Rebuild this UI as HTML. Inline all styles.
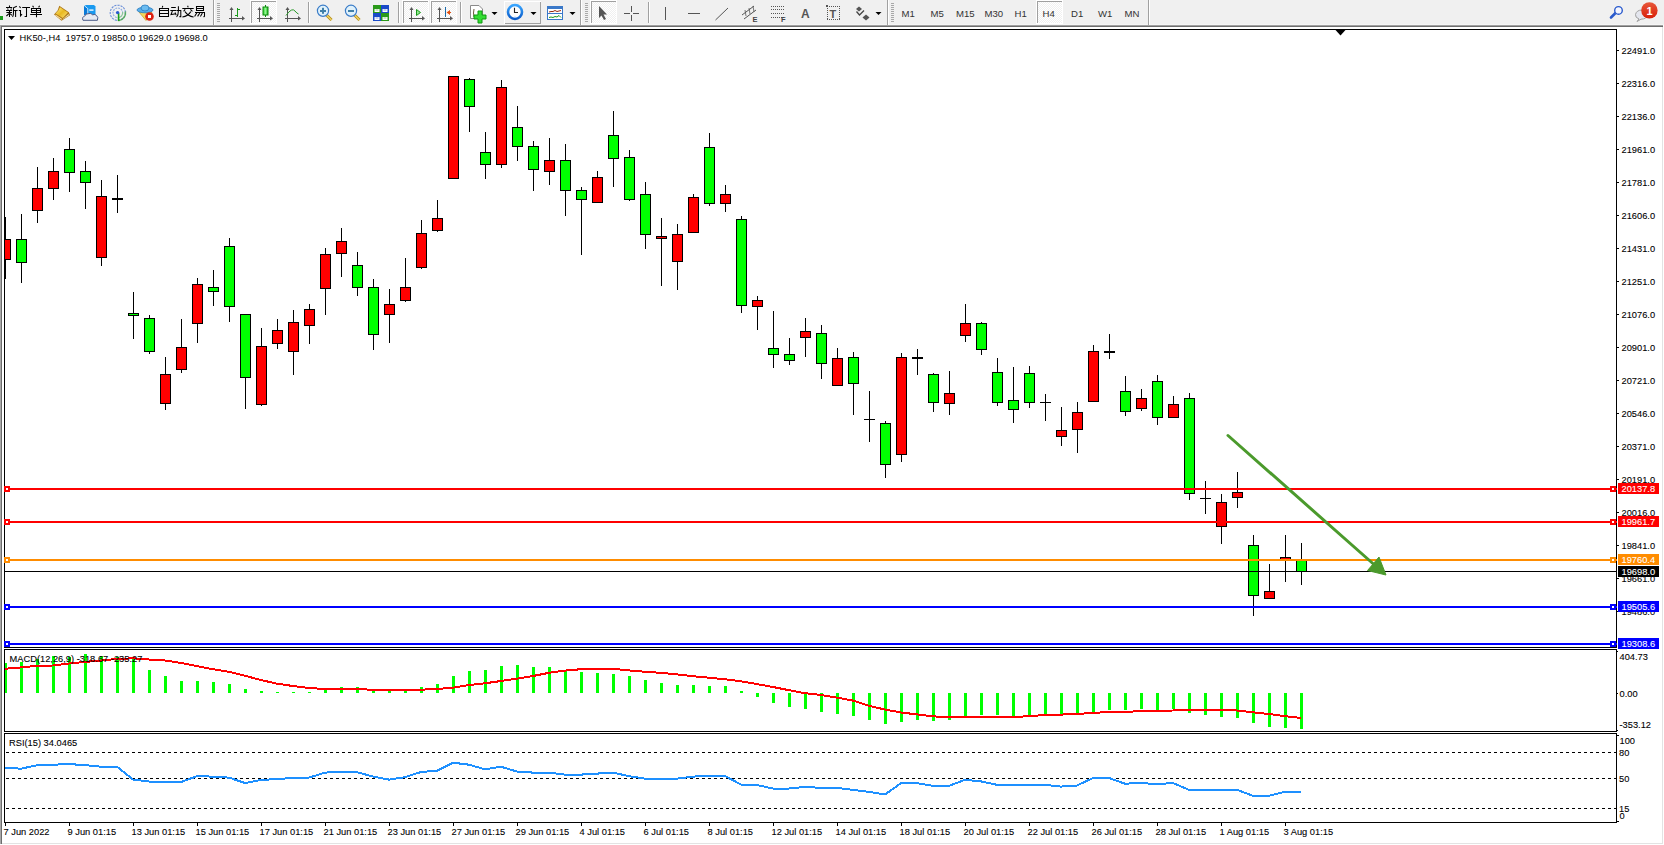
<!DOCTYPE html>
<html><head><meta charset="utf-8"><title>MT4 HK50 H4</title>
<style>html,body{margin:0;padding:0;background:#fff;width:1664px;height:845px;overflow:hidden}
svg text{font-family:"Liberation Sans",sans-serif}</style></head>
<body><svg width="1664" height="845" viewBox="0 0 1664 845" style="display:block;position:absolute;left:0;top:0"><rect x="0" y="0" width="1664" height="845" fill="#ffffff"/><rect x="0" y="0" width="1664" height="24" fill="#f0f0f0"/><rect x="0" y="24" width="1664" height="1" fill="#f5f5f5"/><rect x="0" y="25" width="1663" height="1" fill="#a0a0a0"/><rect x="0" y="26" width="1663" height="1" fill="#6d6d6d"/><rect x="0" y="25" width="1" height="819" fill="#a8a8a8"/><rect x="1" y="26" width="1" height="818" fill="#6d6d6d"/><rect x="1662" y="27" width="1" height="817" fill="#e3e3e3"/><rect x="2" y="843" width="1661" height="1" fill="#e3e3e3"/><defs><clipPath id="cm"><rect x="5" y="30" width="1611" height="617"/></clipPath><clipPath id="cmacd"><rect x="5" y="650" width="1611" height="81"/></clipPath><clipPath id="crsi"><rect x="5" y="734" width="1611" height="88"/></clipPath></defs><rect x="4" y="29" width="1613" height="1" fill="#000"/><rect x="4" y="647" width="1613" height="1" fill="#000"/><rect x="4" y="29" width="1" height="619" fill="#000"/><rect x="1616" y="29" width="1" height="619" fill="#000"/><rect x="4" y="649" width="1613" height="1" fill="#000"/><rect x="4" y="731" width="1613" height="1" fill="#000"/><rect x="4" y="649" width="1" height="83" fill="#000"/><rect x="1616" y="649" width="1" height="83" fill="#000"/><rect x="4" y="733" width="1613" height="1" fill="#000"/><rect x="4" y="822" width="1613" height="1" fill="#000"/><rect x="4" y="733" width="1" height="90" fill="#000"/><rect x="1616" y="733" width="1" height="90" fill="#000"/><rect x="1617" y="50" width="2" height="1" fill="#000"/><rect x="1617" y="83" width="2" height="1" fill="#000"/><rect x="1617" y="116" width="2" height="1" fill="#000"/><rect x="1617" y="149" width="2" height="1" fill="#000"/><rect x="1617" y="182" width="2" height="1" fill="#000"/><rect x="1617" y="215" width="2" height="1" fill="#000"/><rect x="1617" y="248" width="2" height="1" fill="#000"/><rect x="1617" y="281" width="2" height="1" fill="#000"/><rect x="1617" y="314" width="2" height="1" fill="#000"/><rect x="1617" y="347" width="2" height="1" fill="#000"/><rect x="1617" y="380" width="2" height="1" fill="#000"/><rect x="1617" y="413" width="2" height="1" fill="#000"/><rect x="1617" y="446" width="2" height="1" fill="#000"/><rect x="1617" y="479" width="2" height="1" fill="#000"/><rect x="1617" y="512" width="2" height="1" fill="#000"/><rect x="1617" y="545" width="2" height="1" fill="#000"/><rect x="1617" y="578" width="2" height="1" fill="#000"/><rect x="1617" y="611" width="2" height="1" fill="#000"/><g font-family='"Liberation Sans", sans-serif' font-size="9.8" fill="#000" stroke="#000" stroke-width="0.1"><text transform="translate(1621.5 54) scale(0.95 1)">22491.0</text><text transform="translate(1621.5 87) scale(0.95 1)">22316.0</text><text transform="translate(1621.5 120) scale(0.95 1)">22136.0</text><text transform="translate(1621.5 153) scale(0.95 1)">21961.0</text><text transform="translate(1621.5 186) scale(0.95 1)">21781.0</text><text transform="translate(1621.5 219) scale(0.95 1)">21606.0</text><text transform="translate(1621.5 252) scale(0.95 1)">21431.0</text><text transform="translate(1621.5 285) scale(0.95 1)">21251.0</text><text transform="translate(1621.5 318) scale(0.95 1)">21076.0</text><text transform="translate(1621.5 351) scale(0.95 1)">20901.0</text><text transform="translate(1621.5 384) scale(0.95 1)">20721.0</text><text transform="translate(1621.5 417) scale(0.95 1)">20546.0</text><text transform="translate(1621.5 450) scale(0.95 1)">20371.0</text><text transform="translate(1621.5 483) scale(0.95 1)">20191.0</text><text transform="translate(1621.5 516) scale(0.95 1)">20016.0</text><text transform="translate(1621.5 549) scale(0.95 1)">19841.0</text><text transform="translate(1621.5 582) scale(0.95 1)">19661.0</text><text transform="translate(1621.5 615) scale(0.95 1)">19486.0</text></g><g clip-path="url(#cm)"><rect x="5" y="217" width="1" height="62" fill="#000"/><rect x="0" y="239" width="11" height="21" fill="#000"/><rect x="1" y="240" width="9" height="19" fill="#ff0000"/><rect x="21" y="214" width="1" height="69" fill="#000"/><rect x="16" y="239" width="11" height="24" fill="#000"/><rect x="17" y="240" width="9" height="22" fill="#00ff00"/><rect x="37" y="167" width="1" height="56" fill="#000"/><rect x="32" y="188" width="11" height="23" fill="#000"/><rect x="33" y="189" width="9" height="21" fill="#ff0000"/><rect x="53" y="158" width="1" height="42" fill="#000"/><rect x="48" y="171" width="11" height="18" fill="#000"/><rect x="49" y="172" width="9" height="16" fill="#ff0000"/><rect x="69" y="138" width="1" height="54" fill="#000"/><rect x="64" y="149" width="11" height="24" fill="#000"/><rect x="65" y="150" width="9" height="22" fill="#00ff00"/><rect x="85" y="161" width="1" height="48" fill="#000"/><rect x="80" y="171" width="11" height="12" fill="#000"/><rect x="81" y="172" width="9" height="10" fill="#00ff00"/><rect x="101" y="180" width="1" height="86" fill="#000"/><rect x="96" y="196" width="11" height="62" fill="#000"/><rect x="97" y="197" width="9" height="60" fill="#ff0000"/><rect x="117" y="175" width="1" height="38" fill="#000"/><rect x="112" y="198" width="11" height="2" fill="#000"/><rect x="133" y="292" width="1" height="47" fill="#000"/><rect x="128" y="313" width="11" height="3" fill="#000"/><rect x="129" y="314" width="9" height="1" fill="#00ff00"/><rect x="149" y="315" width="1" height="39" fill="#000"/><rect x="144" y="318" width="11" height="34" fill="#000"/><rect x="145" y="319" width="9" height="32" fill="#00ff00"/><rect x="165" y="357" width="1" height="53" fill="#000"/><rect x="160" y="374" width="11" height="30" fill="#000"/><rect x="161" y="375" width="9" height="28" fill="#ff0000"/><rect x="181" y="319" width="1" height="54" fill="#000"/><rect x="176" y="347" width="11" height="23" fill="#000"/><rect x="177" y="348" width="9" height="21" fill="#ff0000"/><rect x="197" y="278" width="1" height="65" fill="#000"/><rect x="192" y="284" width="11" height="40" fill="#000"/><rect x="193" y="285" width="9" height="38" fill="#ff0000"/><rect x="213" y="270" width="1" height="36" fill="#000"/><rect x="208" y="287" width="11" height="5" fill="#000"/><rect x="209" y="288" width="9" height="3" fill="#00ff00"/><rect x="229" y="238" width="1" height="84" fill="#000"/><rect x="224" y="246" width="11" height="61" fill="#000"/><rect x="225" y="247" width="9" height="59" fill="#00ff00"/><rect x="245" y="314" width="1" height="95" fill="#000"/><rect x="240" y="314" width="11" height="64" fill="#000"/><rect x="241" y="315" width="9" height="62" fill="#00ff00"/><rect x="261" y="328" width="1" height="78" fill="#000"/><rect x="256" y="346" width="11" height="59" fill="#000"/><rect x="257" y="347" width="9" height="57" fill="#ff0000"/><rect x="277" y="319" width="1" height="30" fill="#000"/><rect x="272" y="330" width="11" height="14" fill="#000"/><rect x="273" y="331" width="9" height="12" fill="#ff0000"/><rect x="293" y="310" width="1" height="65" fill="#000"/><rect x="288" y="322" width="11" height="30" fill="#000"/><rect x="289" y="323" width="9" height="28" fill="#ff0000"/><rect x="309" y="304" width="1" height="40" fill="#000"/><rect x="304" y="309" width="11" height="17" fill="#000"/><rect x="305" y="310" width="9" height="15" fill="#ff0000"/><rect x="325" y="248" width="1" height="67" fill="#000"/><rect x="320" y="254" width="11" height="35" fill="#000"/><rect x="321" y="255" width="9" height="33" fill="#ff0000"/><rect x="341" y="228" width="1" height="49" fill="#000"/><rect x="336" y="241" width="11" height="13" fill="#000"/><rect x="337" y="242" width="9" height="11" fill="#ff0000"/><rect x="357" y="252" width="1" height="44" fill="#000"/><rect x="352" y="265" width="11" height="23" fill="#000"/><rect x="353" y="266" width="9" height="21" fill="#00ff00"/><rect x="373" y="279" width="1" height="71" fill="#000"/><rect x="368" y="287" width="11" height="48" fill="#000"/><rect x="369" y="288" width="9" height="46" fill="#00ff00"/><rect x="389" y="289" width="1" height="54" fill="#000"/><rect x="384" y="304" width="11" height="11" fill="#000"/><rect x="385" y="305" width="9" height="9" fill="#ff0000"/><rect x="405" y="258" width="1" height="44" fill="#000"/><rect x="400" y="287" width="11" height="14" fill="#000"/><rect x="401" y="288" width="9" height="12" fill="#ff0000"/><rect x="421" y="220" width="1" height="49" fill="#000"/><rect x="416" y="233" width="11" height="35" fill="#000"/><rect x="417" y="234" width="9" height="33" fill="#ff0000"/><rect x="437" y="200" width="1" height="32" fill="#000"/><rect x="432" y="218" width="11" height="13" fill="#000"/><rect x="433" y="219" width="9" height="11" fill="#ff0000"/><rect x="453" y="76" width="1" height="103" fill="#000"/><rect x="448" y="76" width="11" height="103" fill="#000"/><rect x="449" y="77" width="9" height="101" fill="#ff0000"/><rect x="469" y="78" width="1" height="54" fill="#000"/><rect x="464" y="79" width="11" height="28" fill="#000"/><rect x="465" y="80" width="9" height="26" fill="#00ff00"/><rect x="485" y="132" width="1" height="47" fill="#000"/><rect x="480" y="152" width="11" height="13" fill="#000"/><rect x="481" y="153" width="9" height="11" fill="#00ff00"/><rect x="501" y="80" width="1" height="88" fill="#000"/><rect x="496" y="87" width="11" height="78" fill="#000"/><rect x="497" y="88" width="9" height="76" fill="#ff0000"/><rect x="517" y="106" width="1" height="55" fill="#000"/><rect x="512" y="127" width="11" height="20" fill="#000"/><rect x="513" y="128" width="9" height="18" fill="#00ff00"/><rect x="533" y="141" width="1" height="50" fill="#000"/><rect x="528" y="146" width="11" height="24" fill="#000"/><rect x="529" y="147" width="9" height="22" fill="#00ff00"/><rect x="549" y="138" width="1" height="47" fill="#000"/><rect x="544" y="160" width="11" height="12" fill="#000"/><rect x="545" y="161" width="9" height="10" fill="#ff0000"/><rect x="565" y="144" width="1" height="72" fill="#000"/><rect x="560" y="160" width="11" height="31" fill="#000"/><rect x="561" y="161" width="9" height="29" fill="#00ff00"/><rect x="581" y="187" width="1" height="68" fill="#000"/><rect x="576" y="190" width="11" height="10" fill="#000"/><rect x="577" y="191" width="9" height="8" fill="#00ff00"/><rect x="597" y="171" width="1" height="32" fill="#000"/><rect x="592" y="177" width="11" height="26" fill="#000"/><rect x="593" y="178" width="9" height="24" fill="#ff0000"/><rect x="613" y="111" width="1" height="76" fill="#000"/><rect x="608" y="135" width="11" height="24" fill="#000"/><rect x="609" y="136" width="9" height="22" fill="#00ff00"/><rect x="629" y="150" width="1" height="51" fill="#000"/><rect x="624" y="157" width="11" height="43" fill="#000"/><rect x="625" y="158" width="9" height="41" fill="#00ff00"/><rect x="645" y="182" width="1" height="67" fill="#000"/><rect x="640" y="194" width="11" height="41" fill="#000"/><rect x="641" y="195" width="9" height="39" fill="#00ff00"/><rect x="661" y="218" width="1" height="68" fill="#000"/><rect x="656" y="236" width="11" height="3" fill="#000"/><rect x="657" y="237" width="9" height="1" fill="#ff0000"/><rect x="677" y="224" width="1" height="66" fill="#000"/><rect x="672" y="234" width="11" height="28" fill="#000"/><rect x="673" y="235" width="9" height="26" fill="#ff0000"/><rect x="693" y="194" width="1" height="39" fill="#000"/><rect x="688" y="197" width="11" height="36" fill="#000"/><rect x="689" y="198" width="9" height="34" fill="#ff0000"/><rect x="709" y="133" width="1" height="73" fill="#000"/><rect x="704" y="147" width="11" height="57" fill="#000"/><rect x="705" y="148" width="9" height="55" fill="#00ff00"/><rect x="725" y="185" width="1" height="27" fill="#000"/><rect x="720" y="194" width="11" height="10" fill="#000"/><rect x="721" y="195" width="9" height="8" fill="#ff0000"/><rect x="741" y="216" width="1" height="97" fill="#000"/><rect x="736" y="219" width="11" height="87" fill="#000"/><rect x="737" y="220" width="9" height="85" fill="#00ff00"/><rect x="757" y="296" width="1" height="34" fill="#000"/><rect x="752" y="300" width="11" height="7" fill="#000"/><rect x="753" y="301" width="9" height="5" fill="#ff0000"/><rect x="773" y="311" width="1" height="57" fill="#000"/><rect x="768" y="348" width="11" height="7" fill="#000"/><rect x="769" y="349" width="9" height="5" fill="#00ff00"/><rect x="789" y="338" width="1" height="27" fill="#000"/><rect x="784" y="354" width="11" height="7" fill="#000"/><rect x="785" y="355" width="9" height="5" fill="#00ff00"/><rect x="805" y="318" width="1" height="39" fill="#000"/><rect x="800" y="331" width="11" height="7" fill="#000"/><rect x="801" y="332" width="9" height="5" fill="#ff0000"/><rect x="821" y="325" width="1" height="54" fill="#000"/><rect x="816" y="333" width="11" height="31" fill="#000"/><rect x="817" y="334" width="9" height="29" fill="#00ff00"/><rect x="837" y="348" width="1" height="38" fill="#000"/><rect x="832" y="358" width="11" height="28" fill="#000"/><rect x="833" y="359" width="9" height="26" fill="#ff0000"/><rect x="853" y="352" width="1" height="63" fill="#000"/><rect x="848" y="357" width="11" height="27" fill="#000"/><rect x="849" y="358" width="9" height="25" fill="#00ff00"/><rect x="869" y="391" width="1" height="51" fill="#000"/><rect x="864" y="419" width="11" height="1" fill="#000"/><rect x="885" y="421" width="1" height="57" fill="#000"/><rect x="880" y="423" width="11" height="42" fill="#000"/><rect x="881" y="424" width="9" height="40" fill="#00ff00"/><rect x="901" y="353" width="1" height="109" fill="#000"/><rect x="896" y="357" width="11" height="98" fill="#000"/><rect x="897" y="358" width="9" height="96" fill="#ff0000"/><rect x="917" y="349" width="1" height="26" fill="#000"/><rect x="912" y="357" width="11" height="2" fill="#000"/><rect x="933" y="373" width="1" height="39" fill="#000"/><rect x="928" y="374" width="11" height="29" fill="#000"/><rect x="929" y="375" width="9" height="27" fill="#00ff00"/><rect x="949" y="371" width="1" height="44" fill="#000"/><rect x="944" y="393" width="11" height="11" fill="#000"/><rect x="945" y="394" width="9" height="9" fill="#ff0000"/><rect x="965" y="304" width="1" height="38" fill="#000"/><rect x="960" y="323" width="11" height="13" fill="#000"/><rect x="961" y="324" width="9" height="11" fill="#ff0000"/><rect x="981" y="322" width="1" height="33" fill="#000"/><rect x="976" y="323" width="11" height="27" fill="#000"/><rect x="977" y="324" width="9" height="25" fill="#00ff00"/><rect x="997" y="358" width="1" height="48" fill="#000"/><rect x="992" y="372" width="11" height="31" fill="#000"/><rect x="993" y="373" width="9" height="29" fill="#00ff00"/><rect x="1013" y="367" width="1" height="56" fill="#000"/><rect x="1008" y="400" width="11" height="10" fill="#000"/><rect x="1009" y="401" width="9" height="8" fill="#00ff00"/><rect x="1029" y="366" width="1" height="42" fill="#000"/><rect x="1024" y="373" width="11" height="30" fill="#000"/><rect x="1025" y="374" width="9" height="28" fill="#00ff00"/><rect x="1045" y="394" width="1" height="27" fill="#000"/><rect x="1040" y="402" width="11" height="1" fill="#000"/><rect x="1061" y="407" width="1" height="39" fill="#000"/><rect x="1056" y="430" width="11" height="7" fill="#000"/><rect x="1057" y="431" width="9" height="5" fill="#ff0000"/><rect x="1077" y="402" width="1" height="51" fill="#000"/><rect x="1072" y="412" width="11" height="18" fill="#000"/><rect x="1073" y="413" width="9" height="16" fill="#ff0000"/><rect x="1093" y="345" width="1" height="57" fill="#000"/><rect x="1088" y="351" width="11" height="51" fill="#000"/><rect x="1089" y="352" width="9" height="49" fill="#ff0000"/><rect x="1109" y="334" width="1" height="25" fill="#000"/><rect x="1104" y="351" width="11" height="2" fill="#000"/><rect x="1125" y="376" width="1" height="40" fill="#000"/><rect x="1120" y="391" width="11" height="21" fill="#000"/><rect x="1121" y="392" width="9" height="19" fill="#00ff00"/><rect x="1141" y="389" width="1" height="22" fill="#000"/><rect x="1136" y="398" width="11" height="11" fill="#000"/><rect x="1137" y="399" width="9" height="9" fill="#ff0000"/><rect x="1157" y="375" width="1" height="50" fill="#000"/><rect x="1152" y="381" width="11" height="37" fill="#000"/><rect x="1153" y="382" width="9" height="35" fill="#00ff00"/><rect x="1173" y="396" width="1" height="22" fill="#000"/><rect x="1168" y="404" width="11" height="14" fill="#000"/><rect x="1169" y="405" width="9" height="12" fill="#ff0000"/><rect x="1189" y="393" width="1" height="107" fill="#000"/><rect x="1184" y="398" width="11" height="96" fill="#000"/><rect x="1185" y="399" width="9" height="94" fill="#00ff00"/><rect x="1205" y="481" width="1" height="33" fill="#000"/><rect x="1200" y="498" width="11" height="1" fill="#000"/><rect x="1221" y="494" width="1" height="50" fill="#000"/><rect x="1216" y="502" width="11" height="25" fill="#000"/><rect x="1217" y="503" width="9" height="23" fill="#ff0000"/><rect x="1237" y="472" width="1" height="36" fill="#000"/><rect x="1232" y="492" width="11" height="6" fill="#000"/><rect x="1233" y="493" width="9" height="4" fill="#ff0000"/><rect x="1253" y="535" width="1" height="81" fill="#000"/><rect x="1248" y="545" width="11" height="51" fill="#000"/><rect x="1249" y="546" width="9" height="49" fill="#00ff00"/><rect x="1269" y="564" width="1" height="35" fill="#000"/><rect x="1264" y="591" width="11" height="8" fill="#000"/><rect x="1265" y="592" width="9" height="6" fill="#ff0000"/><rect x="1285" y="535" width="1" height="47" fill="#000"/><rect x="1280" y="557" width="11" height="3" fill="#000"/><rect x="1281" y="558" width="9" height="1" fill="#ff0000"/><rect x="1301" y="543" width="1" height="42" fill="#000"/><rect x="1296" y="560" width="11" height="12" fill="#000"/><rect x="1297" y="561" width="9" height="10" fill="#00ff00"/></g><g><rect x="4" y="488" width="1613" height="2" fill="#ff0000"/><rect x="4" y="486" width="6" height="6" fill="#ff0000"/><rect x="6" y="488" width="2" height="2" fill="#fff"/><rect x="1610" y="486" width="6" height="6" fill="#ff0000"/><rect x="1612" y="488" width="2" height="2" fill="#fff"/><rect x="4" y="521" width="1613" height="2" fill="#ff0000"/><rect x="4" y="519" width="6" height="6" fill="#ff0000"/><rect x="6" y="521" width="2" height="2" fill="#fff"/><rect x="1610" y="519" width="6" height="6" fill="#ff0000"/><rect x="1612" y="521" width="2" height="2" fill="#fff"/><rect x="4" y="559" width="1613" height="2" fill="#ff8c00"/><rect x="4" y="557" width="6" height="6" fill="#ff8c00"/><rect x="6" y="559" width="2" height="2" fill="#fff"/><rect x="1610" y="557" width="6" height="6" fill="#ff8c00"/><rect x="1612" y="559" width="2" height="2" fill="#fff"/><rect x="4" y="606" width="1613" height="2" fill="#0000ff"/><rect x="4" y="604" width="6" height="6" fill="#0000ff"/><rect x="6" y="606" width="2" height="2" fill="#fff"/><rect x="1610" y="604" width="6" height="6" fill="#0000ff"/><rect x="1612" y="606" width="2" height="2" fill="#fff"/><rect x="4" y="643" width="1613" height="2" fill="#0000ff"/><rect x="4" y="641" width="6" height="6" fill="#0000ff"/><rect x="6" y="643" width="2" height="2" fill="#fff"/><rect x="1610" y="641" width="6" height="6" fill="#0000ff"/><rect x="1612" y="643" width="2" height="2" fill="#fff"/><rect x="5" y="571" width="1611" height="1" fill="#000"/></g><g font-family='"Liberation Sans", sans-serif' font-size="9.8"><rect x="1618" y="483" width="41" height="11" fill="#ff0000"/><text transform="translate(1621.5 492) scale(0.95 1)" fill="#fff" stroke="#fff" stroke-width="0.1">20137.8</text><rect x="1618" y="516" width="41" height="11" fill="#ff0000"/><text transform="translate(1621.5 525) scale(0.95 1)" fill="#fff" stroke="#fff" stroke-width="0.1">19961.7</text><rect x="1618" y="554" width="41" height="11" fill="#ff8c00"/><text transform="translate(1621.5 563) scale(0.95 1)" fill="#fff" stroke="#fff" stroke-width="0.1">19760.4</text><rect x="1618" y="601" width="41" height="11" fill="#0000ff"/><text transform="translate(1621.5 610) scale(0.95 1)" fill="#fff" stroke="#fff" stroke-width="0.1">19505.6</text><rect x="1618" y="638" width="41" height="11" fill="#0000ff"/><text transform="translate(1621.5 647) scale(0.95 1)" fill="#fff" stroke="#fff" stroke-width="0.1">19308.6</text><rect x="1618" y="566" width="41" height="11" fill="#000000"/><text transform="translate(1621.5 575) scale(0.95 1)" fill="#fff" stroke="#fff" stroke-width="0.1">19698.0</text></g><g fill="#4b9a2c" stroke="#4b9a2c"><line x1="1228" y1="435.5" x2="1374" y2="564.5" stroke-width="3" stroke-linecap="round"/><polygon points="1386,575 1379,557 1367.5,570.5" stroke-width="1" stroke-linejoin="round"/></g><polygon points="1335.5,30 1345.5,30 1340.5,35.5" fill="#000"/><polygon points="8,36 15,36 11.5,40" fill="#000"/><text transform="translate(19.5 41) scale(0.95 1)" font-family='"Liberation Sans", sans-serif' font-size="9.8" fill="#000" xml:space="preserve">HK50-,H4  19757.0 19850.0 19629.0 19698.0</text><g clip-path="url(#cmacd)"><rect x="4" y="663" width="3" height="30" fill="#00ff00"/><rect x="20" y="662" width="3" height="31" fill="#00ff00"/><rect x="36" y="659" width="3" height="34" fill="#00ff00"/><rect x="52" y="656" width="3" height="37" fill="#00ff00"/><rect x="68" y="657" width="3" height="36" fill="#00ff00"/><rect x="84" y="654" width="3" height="39" fill="#00ff00"/><rect x="100" y="656" width="3" height="37" fill="#00ff00"/><rect x="116" y="657" width="3" height="36" fill="#00ff00"/><rect x="132" y="659" width="3" height="34" fill="#00ff00"/><rect x="148" y="670" width="3" height="23" fill="#00ff00"/><rect x="164" y="676" width="3" height="17" fill="#00ff00"/><rect x="180" y="681" width="3" height="12" fill="#00ff00"/><rect x="196" y="681" width="3" height="12" fill="#00ff00"/><rect x="212" y="682" width="3" height="11" fill="#00ff00"/><rect x="228" y="684" width="3" height="9" fill="#00ff00"/><rect x="244" y="689" width="3" height="4" fill="#00ff00"/><rect x="260" y="691" width="3" height="2" fill="#00ff00"/><rect x="276" y="692" width="3" height="1" fill="#00ff00"/><rect x="292" y="692" width="3" height="1" fill="#00ff00"/><rect x="308" y="692" width="3" height="1" fill="#00ff00"/><rect x="324" y="688" width="3" height="5" fill="#00ff00"/><rect x="340" y="687" width="3" height="6" fill="#00ff00"/><rect x="356" y="687" width="3" height="6" fill="#00ff00"/><rect x="372" y="690" width="3" height="3" fill="#00ff00"/><rect x="388" y="690" width="3" height="3" fill="#00ff00"/><rect x="404" y="690" width="3" height="3" fill="#00ff00"/><rect x="420" y="687" width="3" height="6" fill="#00ff00"/><rect x="436" y="684" width="3" height="9" fill="#00ff00"/><rect x="452" y="676" width="3" height="17" fill="#00ff00"/><rect x="468" y="671" width="3" height="22" fill="#00ff00"/><rect x="484" y="670" width="3" height="23" fill="#00ff00"/><rect x="500" y="666" width="3" height="27" fill="#00ff00"/><rect x="516" y="665" width="3" height="28" fill="#00ff00"/><rect x="532" y="667" width="3" height="26" fill="#00ff00"/><rect x="548" y="667" width="3" height="26" fill="#00ff00"/><rect x="564" y="670" width="3" height="23" fill="#00ff00"/><rect x="580" y="672" width="3" height="21" fill="#00ff00"/><rect x="596" y="673" width="3" height="20" fill="#00ff00"/><rect x="612" y="674" width="3" height="19" fill="#00ff00"/><rect x="628" y="676" width="3" height="17" fill="#00ff00"/><rect x="644" y="680" width="3" height="13" fill="#00ff00"/><rect x="660" y="683" width="3" height="10" fill="#00ff00"/><rect x="676" y="685" width="3" height="8" fill="#00ff00"/><rect x="692" y="685" width="3" height="8" fill="#00ff00"/><rect x="708" y="686" width="3" height="7" fill="#00ff00"/><rect x="724" y="686" width="3" height="7" fill="#00ff00"/><rect x="740" y="691" width="3" height="2" fill="#00ff00"/><rect x="756" y="693" width="3" height="4" fill="#00ff00"/><rect x="772" y="693" width="3" height="10" fill="#00ff00"/><rect x="788" y="693" width="3" height="14" fill="#00ff00"/><rect x="804" y="693" width="3" height="16" fill="#00ff00"/><rect x="820" y="693" width="3" height="19" fill="#00ff00"/><rect x="836" y="693" width="3" height="21" fill="#00ff00"/><rect x="852" y="693" width="3" height="23" fill="#00ff00"/><rect x="868" y="693" width="3" height="27" fill="#00ff00"/><rect x="884" y="693" width="3" height="31" fill="#00ff00"/><rect x="900" y="693" width="3" height="29" fill="#00ff00"/><rect x="916" y="693" width="3" height="27" fill="#00ff00"/><rect x="932" y="693" width="3" height="28" fill="#00ff00"/><rect x="948" y="693" width="3" height="27" fill="#00ff00"/><rect x="964" y="693" width="3" height="24" fill="#00ff00"/><rect x="980" y="693" width="3" height="22" fill="#00ff00"/><rect x="996" y="693" width="3" height="22" fill="#00ff00"/><rect x="1012" y="693" width="3" height="23" fill="#00ff00"/><rect x="1028" y="693" width="3" height="23" fill="#00ff00"/><rect x="1044" y="693" width="3" height="22" fill="#00ff00"/><rect x="1060" y="693" width="3" height="22" fill="#00ff00"/><rect x="1076" y="693" width="3" height="21" fill="#00ff00"/><rect x="1092" y="693" width="3" height="19" fill="#00ff00"/><rect x="1108" y="693" width="3" height="17" fill="#00ff00"/><rect x="1124" y="693" width="3" height="17" fill="#00ff00"/><rect x="1140" y="693" width="3" height="16" fill="#00ff00"/><rect x="1156" y="693" width="3" height="17" fill="#00ff00"/><rect x="1172" y="693" width="3" height="16" fill="#00ff00"/><rect x="1188" y="693" width="3" height="20" fill="#00ff00"/><rect x="1204" y="693" width="3" height="22" fill="#00ff00"/><rect x="1220" y="693" width="3" height="24" fill="#00ff00"/><rect x="1236" y="693" width="3" height="25" fill="#00ff00"/><rect x="1252" y="693" width="3" height="30" fill="#00ff00"/><rect x="1268" y="693" width="3" height="34" fill="#00ff00"/><rect x="1284" y="693" width="3" height="35" fill="#00ff00"/><rect x="1300" y="693" width="3" height="36" fill="#00ff00"/><polyline points="5,668.8 21,667.4 37,665.8 53,665.5 69,663.5 85,661.9 101,660.5 117,658.9 133,658.3 149,659.5 165,660.5 181,662.9 197,666.2 213,669.2 229,671.8 245,675.8 261,680 277,683.7 293,686 309,688 325,689 341,689 357,689 373,689.8 389,690 405,690 421,689.7 437,689 453,687.7 469,685 485,683.3 501,681 517,678.7 533,676 549,672.8 565,670.6 581,669.2 597,668.8 613,668.8 629,670.4 645,671.8 661,672.8 677,674.4 693,676.2 709,677.7 725,679.3 741,681.3 757,684.1 773,687 789,690.2 805,693.2 821,695 837,697.6 853,700.6 869,705.9 885,709.5 901,712.5 917,714.4 933,716.4 949,717 965,717 981,717 997,717 1013,717 1029,716.2 1045,715 1061,714.6 1077,714 1093,712.9 1109,712 1125,711.8 1141,711.2 1157,710.7 1173,710.5 1189,710.1 1205,710.1 1221,710.1 1237,710.5 1253,712.3 1269,714 1285,716.2 1301,717.9" fill="none" stroke="#ff0000" stroke-width="2" shape-rendering="crispEdges"/></g><text transform="translate(9.5 662) scale(0.95 1)" font-family='"Liberation Sans", sans-serif' font-size="9.8" fill="#000" stroke="#000" stroke-width="0.1">MACD(12,26,9) -318.67 -235.27</text><rect x="1617" y="651" width="1" height="1" fill="#000"/><rect x="1617" y="693" width="1" height="1" fill="#000"/><rect x="1617" y="730" width="1" height="1" fill="#000"/><g font-family='"Liberation Sans", sans-serif' font-size="9.8" fill="#000" stroke="#000" stroke-width="0.1"><text transform="translate(1619.5 660) scale(0.95 1)">404.73</text><text transform="translate(1619.5 697) scale(0.95 1)">0.00</text><text transform="translate(1619.5 728) scale(0.95 1)">-353.12</text></g><g clip-path="url(#crsi)"><line x1="6" y1="752.5" x2="1616" y2="752.5" stroke="#000" stroke-width="1" stroke-dasharray="3,3"/><line x1="6" y1="778.5" x2="1616" y2="778.5" stroke="#000" stroke-width="1" stroke-dasharray="3,3"/><line x1="6" y1="808.5" x2="1616" y2="808.5" stroke="#000" stroke-width="1" stroke-dasharray="3,3"/><polyline points="5,767.7 21,768.7 37,765.3 53,764.7 69,764.1 85,765.1 101,766.7 117,766.7 133,779.5 149,781.5 165,782.5 181,782 197,776.2 213,776.6 229,777.6 245,783 261,780 277,779 293,778 309,777.6 325,772.6 341,771.6 357,772.2 373,776.6 389,779.6 405,777.2 421,772 437,770.7 453,762.7 469,764.7 485,769.3 501,766.7 517,771.6 533,772.6 549,772.6 565,774.6 581,774.6 597,773.6 613,772.6 629,776.2 645,778.6 661,778.6 677,778.6 693,776.6 709,776 725,776 741,784.5 757,785.1 773,788.5 789,788.5 805,786.9 821,787.9 837,787.9 853,789.9 869,791.9 885,794.5 901,783.2 917,783.2 933,785.9 949,785.9 965,779.8 981,781.4 997,784.8 1013,784.8 1029,784.8 1045,784.8 1061,786.6 1077,785.5 1093,778 1109,778 1125,783.7 1141,783 1157,784.1 1173,783 1189,789.8 1205,789.8 1221,789.8 1237,789.8 1253,795.8 1269,795.8 1285,791.7 1301,791.7" fill="none" stroke="#1e90ff" stroke-width="2" shape-rendering="crispEdges"/></g><text transform="translate(9 746) scale(0.95 1)" font-family='"Liberation Sans", sans-serif' font-size="9.8" fill="#000" stroke="#000" stroke-width="0.1">RSI(15) 34.0465</text><rect x="1617" y="735" width="2" height="1" fill="#000"/><rect x="1617" y="821" width="2" height="1" fill="#000"/><g font-family='"Liberation Sans", sans-serif' font-size="9.8" fill="#000" stroke="#000" stroke-width="0.1"><text transform="translate(1619.5 744) scale(0.95 1)">100</text><text transform="translate(1619 756) scale(0.95 1)">80</text><text transform="translate(1619 782) scale(0.95 1)">50</text><text transform="translate(1619 812) scale(0.95 1)">15</text><text transform="translate(1619.5 819) scale(0.95 1)">0</text></g><rect x="5" y="823" width="1" height="3" fill="#000"/><rect x="69" y="823" width="1" height="3" fill="#000"/><rect x="133" y="823" width="1" height="3" fill="#000"/><rect x="197" y="823" width="1" height="3" fill="#000"/><rect x="261" y="823" width="1" height="3" fill="#000"/><rect x="325" y="823" width="1" height="3" fill="#000"/><rect x="389" y="823" width="1" height="3" fill="#000"/><rect x="453" y="823" width="1" height="3" fill="#000"/><rect x="517" y="823" width="1" height="3" fill="#000"/><rect x="581" y="823" width="1" height="3" fill="#000"/><rect x="645" y="823" width="1" height="3" fill="#000"/><rect x="709" y="823" width="1" height="3" fill="#000"/><rect x="773" y="823" width="1" height="3" fill="#000"/><rect x="837" y="823" width="1" height="3" fill="#000"/><rect x="901" y="823" width="1" height="3" fill="#000"/><rect x="965" y="823" width="1" height="3" fill="#000"/><rect x="1029" y="823" width="1" height="3" fill="#000"/><rect x="1093" y="823" width="1" height="3" fill="#000"/><rect x="1157" y="823" width="1" height="3" fill="#000"/><rect x="1221" y="823" width="1" height="3" fill="#000"/><rect x="1285" y="823" width="1" height="3" fill="#000"/><g font-family='"Liberation Sans", sans-serif' font-size="9.8" fill="#000" stroke="#000" stroke-width="0.1"><text transform="translate(3.5 835) scale(0.95 1)">7 Jun 2022</text><text transform="translate(67.5 835) scale(0.95 1)">9 Jun 01:15</text><text transform="translate(131.5 835) scale(0.95 1)">13 Jun 01:15</text><text transform="translate(195.5 835) scale(0.95 1)">15 Jun 01:15</text><text transform="translate(259.5 835) scale(0.95 1)">17 Jun 01:15</text><text transform="translate(323.5 835) scale(0.95 1)">21 Jun 01:15</text><text transform="translate(387.5 835) scale(0.95 1)">23 Jun 01:15</text><text transform="translate(451.5 835) scale(0.95 1)">27 Jun 01:15</text><text transform="translate(515.5 835) scale(0.95 1)">29 Jun 01:15</text><text transform="translate(579.5 835) scale(0.95 1)">4 Jul 01:15</text><text transform="translate(643.5 835) scale(0.95 1)">6 Jul 01:15</text><text transform="translate(707.5 835) scale(0.95 1)">8 Jul 01:15</text><text transform="translate(771.5 835) scale(0.95 1)">12 Jul 01:15</text><text transform="translate(835.5 835) scale(0.95 1)">14 Jul 01:15</text><text transform="translate(899.5 835) scale(0.95 1)">18 Jul 01:15</text><text transform="translate(963.5 835) scale(0.95 1)">20 Jul 01:15</text><text transform="translate(1027.5 835) scale(0.95 1)">22 Jul 01:15</text><text transform="translate(1091.5 835) scale(0.95 1)">26 Jul 01:15</text><text transform="translate(1155.5 835) scale(0.95 1)">28 Jul 01:15</text><text transform="translate(1219.5 835) scale(0.95 1)">1 Aug 01:15</text><text transform="translate(1283.5 835) scale(0.95 1)">3 Aug 01:15</text></g><defs><pattern id="chk" width="2" height="2" patternUnits="userSpaceOnUse"><rect width="2" height="2" fill="#f0f0f0"/><rect width="1" height="1" fill="#ffffff"/><rect x="1" y="1" width="1" height="1" fill="#ffffff"/></pattern><linearGradient id="gold" x1="0" y1="0" x2="0" y2="1"><stop offset="0" stop-color="#f4d35a"/><stop offset="1" stop-color="#c48a1c"/></linearGradient><linearGradient id="gbar" x1="0" y1="0" x2="1" y2="0"><stop offset="0" stop-color="#2fd52f"/><stop offset="0.5" stop-color="#8ff58f"/><stop offset="1" stop-color="#1fb51f"/></linearGradient></defs><rect x="0" y="16" width="3" height="4" fill="#1a9a1a"/><g fill="none" stroke="#000" stroke-width="1.05" stroke-linecap="butt"><path d="M9.5,5.6 V7 M6,7.5 H12.2 M7.6,8.4 L8.2,9.7 M11.4,8.4 L10.8,9.7 M6,10.5 H12.2 M6.4,12.5 H12 M9.5,10.5 V17 M9,13.6 L6.4,16 M10,13.6 L12,15.4"/><path d="M16.8,6.2 L13.5,7.8 V12.5 Q13.5,15.5 12.6,17 M13.5,10.5 H17.6 M15.6,10.5 V17"/><path d="M19.4,6.4 L20.6,8 M18.8,10.5 H20.5 V15.8 L22,14.2 M22.2,7.5 H30 M26.5,7.5 V16.5 H24.6"/><path d="M32.6,5.8 L33.6,7.4 M39.6,5.8 L38.6,7.4 M31.5,8.5 H40.5 V12.5 H31.5 Z M31.5,10.5 H40.5 M36.5,8.5 V17.2 M30.2,14.5 H42"/></g><defs><linearGradient id="bk" x1="0" y1="0" x2="1" y2="1"><stop offset="0" stop-color="#fff08a"/><stop offset="0.5" stop-color="#e8b820"/><stop offset="1" stop-color="#fbe27a"/></linearGradient></defs><polygon points="59.3,5.8 68.9,12.3 70,15.3 61.5,20.8 54,14.6 57.6,10.4" fill="#b07818"/><polygon points="60,7.2 67.9,12.5 62.8,18 55.6,13.6 58.4,10.6" fill="url(#bk)"/><polygon points="55.6,14.6 62.2,18.9 61.4,19.8 55.2,15.6" fill="#f6dc98"/><polygon points="63.4,18.6 68.6,14 69,15.3 62.6,19.6" fill="#e8e0b0"/><polygon points="84,6 86,5 94,5 95.5,6.5 95.5,15 84,15" fill="#1a9af0"/><polygon points="84,6 87.5,8.5 87.5,15 84,15" fill="#0a7ad8"/><line x1="84.5" y1="5.8" x2="87.8" y2="8.6" stroke="#e8f6ff" stroke-width="0.8"/><rect x="87.4" y="8.4" width="0.8" height="6" fill="#e8f6ff"/><rect x="89.3" y="9.4" width="4.2" height="1.4" fill="#f0faff"/><path d="M83,20.3 Q81.6,17 84.6,16.2 Q85.6,13.2 89,13.6 Q90.8,12.6 92.6,14.8 Q95.2,13.6 96.6,15.6 Q98.6,17.2 97.4,20.3 Z" fill="#e6eaf2" stroke="#4a5a88" stroke-width="1"/><g fill="none" stroke-width="1.1"><circle cx="117.8" cy="12.8" r="7.6" stroke="#6a8ed8" stroke-dasharray="2.2,1"/><circle cx="117.8" cy="12.8" r="4.8" stroke="#8aaae0" stroke-dasharray="1.8,1"/></g><path d="M118.5,20.6 A7.8,7.8 0 0 0 125.4,11.5" fill="none" stroke="#4aaa4a" stroke-width="1.6" opacity="0.8"/><path d="M118.5,17.6 A4.8,4.8 0 0 0 122.6,12" fill="none" stroke="#8acc8a" stroke-width="1.2" opacity="0.8"/><rect x="117.8" y="13" width="1.6" height="8" fill="#1aa01a"/><circle cx="117.6" cy="12.6" r="1.7" fill="#2a5ad0"/><polygon points="139,12 152,12 146,20.5" fill="#f5d75a" stroke="#c9a630" stroke-width="0.8"/><ellipse cx="145" cy="10" rx="8" ry="2.8" fill="#5aaee8" stroke="#2a7cc0" stroke-width="0.8"/><ellipse cx="145" cy="8" rx="4" ry="3" fill="#6cbcf0" stroke="#2a7cc0" stroke-width="0.8"/><circle cx="149.5" cy="16.5" r="4.3" fill="#dd2211"/><rect x="148" y="15" width="3" height="3" fill="#fff"/><g fill="none" stroke="#000" stroke-width="1.05"><path d="M162.8,5.8 L162.2,7.6 M159.5,8 V17 M168.5,8 V17 M159.5,8.5 H168.5 M159.5,10.5 H168.5 M159.5,13.5 H168.5 M159.5,16.5 H168.5"/><path d="M171.2,7.5 H175.8 M170.3,10.5 H176.6 M172.6,10.4 L171,14.6 L176,13.8 M175,12.6 L176.2,15 M178.4,6.2 V10.5 Q178.4,15 176.6,17 M177,10.4 H180.8 V16.6 H179.4"/><path d="M187.6,5.8 L188.2,7.4 M182.3,8.5 H193.7 M185.2,9.4 L183.6,11.4 M190.4,9.4 L192.4,11.4 M185,11.6 Q188,16 193.6,17 M190.8,11.6 Q188,16 182.4,17"/><path d="M196.5,6.5 H203.5 V10.5 H196.5 Z M196.5,8.5 H203.5 M195,12.5 H204.5 V16.2 L203.6,17 M197,12.4 L194.6,16.4 M199.8,13 L197.6,16.4 M202.4,13 L200.4,16.6"/></g><rect x="213" y="0" width="1" height="25" fill="#a0a0a0"/><rect x="214" y="0" width="1" height="25" fill="#ffffff"/><rect x="217" y="3" width="3" height="1" fill="#a8a8a8"/><rect x="217" y="5" width="3" height="1" fill="#a8a8a8"/><rect x="217" y="7" width="3" height="1" fill="#a8a8a8"/><rect x="217" y="9" width="3" height="1" fill="#a8a8a8"/><rect x="217" y="11" width="3" height="1" fill="#a8a8a8"/><rect x="217" y="13" width="3" height="1" fill="#a8a8a8"/><rect x="217" y="15" width="3" height="1" fill="#a8a8a8"/><rect x="217" y="17" width="3" height="1" fill="#a8a8a8"/><rect x="217" y="19" width="3" height="1" fill="#a8a8a8"/><rect x="217" y="21" width="3" height="1" fill="#a8a8a8"/><rect x="231" y="8" width="1" height="14" fill="#555555"/><polygon points="229.5,10 233.5,10 231.5,7" fill="#555555"/><rect x="229" y="18" width="14" height="1" fill="#555555"/><polygon points="242,16 242,20.5 245,18.5" fill="#555555"/><rect x="237" y="8" width="1" height="9" fill="#1a9a1a"/><rect x="235" y="15" width="2" height="1" fill="#1a9a1a"/><rect x="238" y="9" width="2" height="1" fill="#1a9a1a"/><rect x="250" y="0" width="27" height="24" fill="#ffffff"/><rect x="251" y="1" width="25" height="22" fill="url(#chk)"/><rect x="251" y="1" width="25" height="1" fill="#a0a0a0"/><rect x="251" y="1" width="1" height="22" fill="#a0a0a0"/><rect x="259" y="8" width="1" height="14" fill="#555555"/><polygon points="257.5,10 261.5,10 259.5,7" fill="#555555"/><rect x="257" y="18" width="14" height="1" fill="#555555"/><polygon points="270,16 270,20.5 273,18.5" fill="#555555"/><rect x="265" y="5" width="1" height="12" fill="#0a8a0a"/><rect x="263" y="7" width="5" height="8" fill="url(#gbar)" stroke="#0a8a0a" stroke-width="1"/><rect x="287" y="8" width="1" height="14" fill="#555555"/><polygon points="285.5,10 289.5,10 287.5,7" fill="#555555"/><rect x="285" y="18" width="14" height="1" fill="#555555"/><polygon points="298,16 298,20.5 301,18.5" fill="#555555"/><path d="M286,15.5 Q292,7 295,11 Q297,13.5 298.5,14" fill="none" stroke="#2a9a2a" stroke-width="1"/><rect x="308" y="2" width="1" height="21" fill="#a0a0a0"/><rect x="309" y="2" width="1" height="21" fill="#ffffff"/><line x1="326.5" y1="15" x2="331.5" y2="20" stroke="#b08a10" stroke-width="3"/><line x1="326.5" y1="15" x2="331.5" y2="20" stroke="#f0d060" stroke-width="1.5"/><circle cx="323" cy="10.8" r="5.6" fill="#dff1fb" stroke="#3a7cc8" stroke-width="1.2"/><rect x="320" y="10" width="6" height="2" fill="#3f7fa8"/><rect x="322" y="7.8" width="2" height="6" fill="#3f7fa8"/><line x1="354.5" y1="15" x2="359.5" y2="20" stroke="#b08a10" stroke-width="3"/><line x1="354.5" y1="15" x2="359.5" y2="20" stroke="#f0d060" stroke-width="1.5"/><circle cx="351" cy="10.8" r="5.6" fill="#dff1fb" stroke="#3a7cc8" stroke-width="1.2"/><rect x="348" y="10" width="6" height="2" fill="#3f7fa8"/><rect x="373" y="5" width="8" height="8" fill="#2a9a1a"/><rect x="374.5" y="9" width="5" height="3" fill="#fff"/><rect x="375.5" y="9.5" width="3" height="1" fill="#2a9a1a" opacity="0.5"/><rect x="381" y="5" width="8" height="8" fill="#1a4ac8"/><rect x="382.5" y="9" width="5" height="3" fill="#fff"/><rect x="383.5" y="9.5" width="3" height="1" fill="#1a4ac8" opacity="0.5"/><rect x="373" y="13" width="8" height="8" fill="#1a4ac8"/><rect x="374.5" y="17" width="5" height="3" fill="#fff"/><rect x="375.5" y="17.5" width="3" height="1" fill="#1a4ac8" opacity="0.5"/><rect x="381" y="13" width="8" height="8" fill="#2a9a1a"/><rect x="382.5" y="17" width="5" height="3" fill="#fff"/><rect x="383.5" y="17.5" width="3" height="1" fill="#2a9a1a" opacity="0.5"/><rect x="398" y="2" width="1" height="21" fill="#a0a0a0"/><rect x="399" y="2" width="1" height="21" fill="#ffffff"/><rect x="402" y="0" width="27" height="24" fill="#ffffff"/><rect x="403" y="1" width="25" height="22" fill="url(#chk)"/><rect x="403" y="1" width="25" height="1" fill="#a0a0a0"/><rect x="403" y="1" width="1" height="22" fill="#a0a0a0"/><rect x="411" y="8" width="1" height="14" fill="#555555"/><polygon points="409.5,10 413.5,10 411.5,7" fill="#555555"/><rect x="409" y="18" width="14" height="1" fill="#555555"/><polygon points="422,16 422,20.5 425,18.5" fill="#555555"/><polygon points="416.5,9.5 416.5,15.5 420.5,12.5" fill="#8fe88f" stroke="#1a9a1a" stroke-width="1"/><rect x="430" y="0" width="27" height="24" fill="#ffffff"/><rect x="431" y="1" width="25" height="22" fill="url(#chk)"/><rect x="431" y="1" width="25" height="1" fill="#a0a0a0"/><rect x="431" y="1" width="1" height="22" fill="#a0a0a0"/><rect x="439" y="8" width="1" height="14" fill="#555555"/><polygon points="437.5,10 441.5,10 439.5,7" fill="#555555"/><rect x="437" y="18" width="14" height="1" fill="#555555"/><polygon points="450,16 450,20.5 453,18.5" fill="#555555"/><rect x="445" y="7" width="1" height="10" fill="#1a6aaa"/><polygon points="446.5,12.5 450,10 450,15" fill="#e05010"/><rect x="448" y="12" width="3" height="1" fill="#e05010"/><rect x="460" y="2" width="1" height="21" fill="#a0a0a0"/><rect x="461" y="2" width="1" height="21" fill="#ffffff"/><path d="M470.5,5.5 H479 L482.5,9 V18.5 H470.5 Z" fill="#fff" stroke="#8a8a8a" stroke-width="1"/><path d="M474,9 Q473,13 474,17" fill="none" stroke="#6a5a3a" stroke-width="1"/><path d="M478,11 H482 V15 H486 V19 H482 V23 H478 V19 H474 V15 H478 Z" fill="#33dd33" stroke="#119911" stroke-width="1"/><polygon points="491.5,12 497.5,12 494.5,15" fill="#000"/><rect x="504" y="1" width="37" height="23" fill="#ffffff"/><rect x="505" y="2" width="36" height="22" fill="#a0a0a0"/><rect x="505" y="2" width="35" height="21" fill="#f0f0f0"/><defs><linearGradient id="clk" x1="0" y1="0" x2="0" y2="1"><stop offset="0" stop-color="#3aa6ff"/><stop offset="1" stop-color="#0a5ac8"/></linearGradient></defs><circle cx="515" cy="12" r="7" fill="#fdfdfd" stroke="url(#clk)" stroke-width="2.6"/><path d="M514.5,7.8 V12.5 H518" fill="none" stroke="#222" stroke-width="1.1"/><circle cx="515" cy="17" r="0.6" fill="#6ab0ff"/><polygon points="530.5,12 536.5,12 533.5,15" fill="#000"/><rect x="547.5" y="6.5" width="15" height="13" fill="#fff" stroke="#3a78c8" stroke-width="1"/><rect x="548" y="7" width="14" height="2" fill="#3a78c8"/><rect x="548" y="13" width="14" height="1" fill="#3a78c8"/><polyline points="549,12 551,11.5 553,11.5 555,10.5 557,11.5 559,11 561,10.5" fill="none" stroke="#9a2a10" stroke-width="1"/><polyline points="549,17.5 551,17 553,17.5 555,16.5 557,17 559,15.5 561,17.5" fill="none" stroke="#1a9a1a" stroke-width="1"/><polygon points="569.5,12 575.5,12 572.5,15" fill="#000"/><rect x="580" y="0" width="1" height="25" fill="#a0a0a0"/><rect x="581" y="0" width="1" height="25" fill="#ffffff"/><rect x="585" y="3" width="3" height="1" fill="#a8a8a8"/><rect x="585" y="5" width="3" height="1" fill="#a8a8a8"/><rect x="585" y="7" width="3" height="1" fill="#a8a8a8"/><rect x="585" y="9" width="3" height="1" fill="#a8a8a8"/><rect x="585" y="11" width="3" height="1" fill="#a8a8a8"/><rect x="585" y="13" width="3" height="1" fill="#a8a8a8"/><rect x="585" y="15" width="3" height="1" fill="#a8a8a8"/><rect x="585" y="17" width="3" height="1" fill="#a8a8a8"/><rect x="585" y="19" width="3" height="1" fill="#a8a8a8"/><rect x="585" y="21" width="3" height="1" fill="#a8a8a8"/><rect x="590" y="0" width="27" height="24" fill="#ffffff"/><rect x="591" y="1" width="25" height="22" fill="url(#chk)"/><rect x="591" y="1" width="25" height="1" fill="#a0a0a0"/><rect x="591" y="1" width="1" height="22" fill="#a0a0a0"/><polygon points="599,6 599,18 601.5,15.5 604,20 606,19 603.5,14.5 607,14.5" fill="#555"/><rect x="624" y="13" width="6" height="1" fill="#555"/><rect x="633" y="13" width="6" height="1" fill="#555"/><rect x="631" y="6" width="1" height="6" fill="#555"/><rect x="631" y="15" width="1" height="6" fill="#555"/><rect x="648" y="2" width="1" height="21" fill="#a0a0a0"/><rect x="649" y="2" width="1" height="21" fill="#ffffff"/><rect x="665" y="7" width="1" height="13" fill="#555"/><rect x="688" y="13" width="12" height="1" fill="#555"/><line x1="715.5" y1="20" x2="728" y2="8" stroke="#555" stroke-width="1"/><line x1="742" y1="15" x2="754" y2="6" stroke="#555" stroke-width="1"/><line x1="744" y1="19" x2="756" y2="10" stroke="#555" stroke-width="1"/><line x1="745" y1="10" x2="746" y2="16" stroke="#555" stroke-width="0.8"/><line x1="749" y1="8" x2="750" y2="14" stroke="#555" stroke-width="0.8"/><line x1="753" y1="6" x2="754" y2="12" stroke="#555" stroke-width="0.8"/><text x="752.5" y="21.5" font-family='"Liberation Sans", sans-serif' font-size="7.5" font-weight="bold" fill="#444">E</text><line x1="771" y1="6.5" x2="784" y2="6.5" stroke="#555" stroke-width="1" stroke-dasharray="1,1"/><line x1="771" y1="9.5" x2="784" y2="9.5" stroke="#555" stroke-width="1" stroke-dasharray="1,1"/><line x1="771" y1="13.5" x2="784" y2="13.5" stroke="#555" stroke-width="1" stroke-dasharray="1,1"/><line x1="771" y1="17.5" x2="784" y2="17.5" stroke="#555" stroke-width="1" stroke-dasharray="1,1"/><text x="781" y="21.5" font-family='"Liberation Sans", sans-serif' font-size="7.5" font-weight="bold" fill="#444">F</text><text x="801" y="18" font-family='"Liberation Sans", sans-serif' font-size="12" font-weight="bold" fill="#555">A</text><rect x="827" y="6" width="1" height="1" fill="#555"/><rect x="827" y="19" width="1" height="1" fill="#555"/><rect x="829" y="6" width="1" height="1" fill="#555"/><rect x="829" y="19" width="1" height="1" fill="#555"/><rect x="831" y="6" width="1" height="1" fill="#555"/><rect x="831" y="19" width="1" height="1" fill="#555"/><rect x="833" y="6" width="1" height="1" fill="#555"/><rect x="833" y="19" width="1" height="1" fill="#555"/><rect x="835" y="6" width="1" height="1" fill="#555"/><rect x="835" y="19" width="1" height="1" fill="#555"/><rect x="837" y="6" width="1" height="1" fill="#555"/><rect x="837" y="19" width="1" height="1" fill="#555"/><rect x="839" y="6" width="1" height="1" fill="#555"/><rect x="839" y="19" width="1" height="1" fill="#555"/><rect x="827" y="8" width="1" height="1" fill="#555"/><rect x="839" y="8" width="1" height="1" fill="#555"/><rect x="827" y="10" width="1" height="1" fill="#555"/><rect x="839" y="10" width="1" height="1" fill="#555"/><rect x="827" y="12" width="1" height="1" fill="#555"/><rect x="839" y="12" width="1" height="1" fill="#555"/><rect x="827" y="14" width="1" height="1" fill="#555"/><rect x="839" y="14" width="1" height="1" fill="#555"/><rect x="827" y="16" width="1" height="1" fill="#555"/><rect x="839" y="16" width="1" height="1" fill="#555"/><rect x="827" y="18" width="1" height="1" fill="#555"/><rect x="839" y="18" width="1" height="1" fill="#555"/><rect x="826" y="5" width="2" height="2" fill="#555"/><text x="829.5" y="18" font-family='"Liberation Sans", sans-serif' font-size="11" font-weight="bold" fill="#555">T</text><polygon points="859,6.5 862,9 859,11.5 856,9" fill="#555"/><polyline points="856.5,11.5 859.5,15 864,10.5" fill="none" stroke="#444" stroke-width="1.3"/><polygon points="866,14.5 869.5,17.5 866,20.5 862.5,17.5" fill="#555"/><polygon points="875.5,12 881.5,12 878.5,15" fill="#000"/><rect x="887" y="0" width="1" height="25" fill="#a0a0a0"/><rect x="888" y="0" width="1" height="25" fill="#ffffff"/><rect x="891" y="3" width="3" height="1" fill="#a8a8a8"/><rect x="891" y="5" width="3" height="1" fill="#a8a8a8"/><rect x="891" y="7" width="3" height="1" fill="#a8a8a8"/><rect x="891" y="9" width="3" height="1" fill="#a8a8a8"/><rect x="891" y="11" width="3" height="1" fill="#a8a8a8"/><rect x="891" y="13" width="3" height="1" fill="#a8a8a8"/><rect x="891" y="15" width="3" height="1" fill="#a8a8a8"/><rect x="891" y="17" width="3" height="1" fill="#a8a8a8"/><rect x="891" y="19" width="3" height="1" fill="#a8a8a8"/><rect x="891" y="21" width="3" height="1" fill="#a8a8a8"/><rect x="1036" y="0" width="27" height="24" fill="#ffffff"/><rect x="1037" y="1" width="25" height="22" fill="url(#chk)"/><rect x="1037" y="1" width="25" height="1" fill="#a0a0a0"/><rect x="1037" y="1" width="1" height="22" fill="#a0a0a0"/><text x="901.5" y="17" font-family='"Liberation Sans", sans-serif' font-size="9.6" fill="#333">M1</text><text x="930.5" y="17" font-family='"Liberation Sans", sans-serif' font-size="9.6" fill="#333">M5</text><text x="956" y="17" font-family='"Liberation Sans", sans-serif' font-size="9.6" fill="#333">M15</text><text x="984.5" y="17" font-family='"Liberation Sans", sans-serif' font-size="9.6" fill="#333">M30</text><text x="1014.5" y="17" font-family='"Liberation Sans", sans-serif' font-size="9.6" fill="#333">H1</text><text x="1071" y="17" font-family='"Liberation Sans", sans-serif' font-size="9.6" fill="#333">D1</text><text x="1098" y="17" font-family='"Liberation Sans", sans-serif' font-size="9.6" fill="#333">W1</text><text x="1124.5" y="17" font-family='"Liberation Sans", sans-serif' font-size="9.6" fill="#333">MN</text><text x="1042.5" y="17" font-family='"Liberation Sans", sans-serif' font-size="9.6" fill="#333">H4</text><rect x="1148" y="0" width="1" height="25" fill="#a0a0a0"/><rect x="1149" y="0" width="1" height="25" fill="#ffffff"/><line x1="1611" y1="17.5" x2="1615.5" y2="13" stroke="#2a5acc" stroke-width="2.6" stroke-linecap="round"/><circle cx="1618.5" cy="10.4" r="3.8" fill="#f4f6ff" stroke="#2a5acc" stroke-width="1.4"/><path d="M1637,21.5 L1639,19 Q1635,17.5 1635.5,14.5 Q1636.5,10 1642,10 Q1648,10.5 1647.5,15 Q1647,19 1641,19.2 Z" fill="#e4e6ee" stroke="#a0a0a0" stroke-width="1"/><defs><linearGradient id="bdg" x1="0" y1="0" x2="0" y2="1"><stop offset="0" stop-color="#e8583a"/><stop offset="1" stop-color="#d81e08"/></linearGradient></defs><circle cx="1649.4" cy="10.4" r="8.2" fill="url(#bdg)"/><text x="1646.4" y="14.6" font-family='"Liberation Serif", serif' font-size="11" fill="#fff" font-weight="bold">1</text></svg></body></html>
